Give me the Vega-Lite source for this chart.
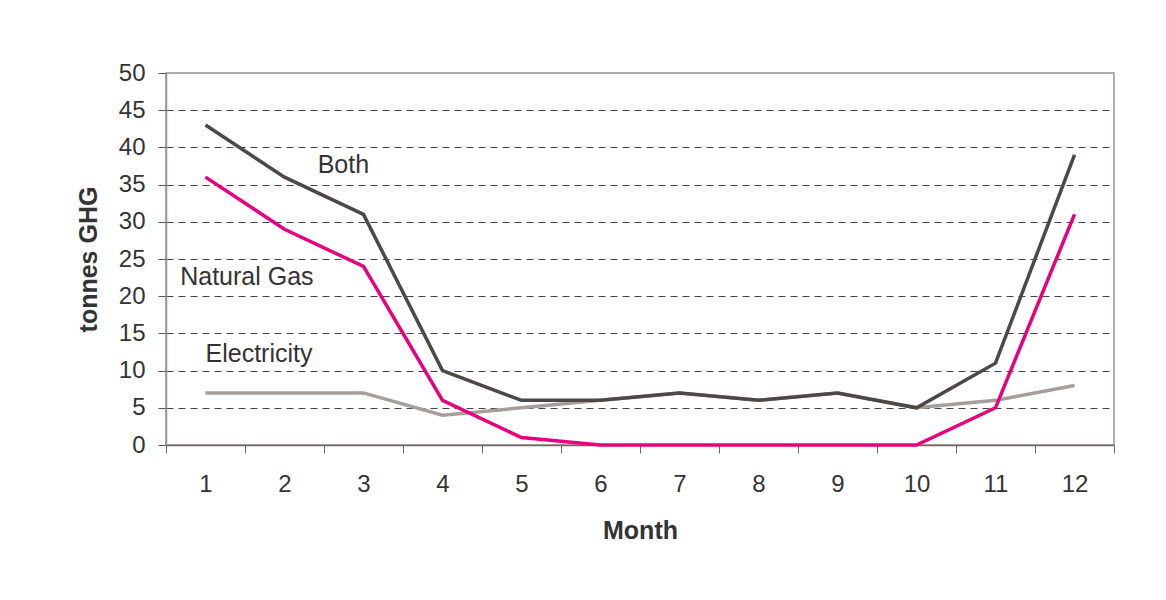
{
  "$schema": "https://vega.github.io/schema/vega-lite/v6.json",
  "autosize": {"type": "none"},
  "width": 948,
  "height": 372,
  "padding": {"left": 166, "top": 73, "right": 52, "bottom": 155},
  "background": "white",
  "config": {
    "font": "Liberation Sans",
    "view": {"stroke": "#9a918e", "strokeWidth": 1.5},
    "axis": {
      "labelFont": "Liberation Sans",
      "titleFont": "Liberation Sans",
      "labelColor": "#333333",
      "titleColor": "#333333"
    }
  },
  "datasets": {
    "emissions": [
      {"month": 1, "source": "Electricity", "tonnes": 7},
      {"month": 2, "source": "Electricity", "tonnes": 7},
      {"month": 3, "source": "Electricity", "tonnes": 7},
      {"month": 4, "source": "Electricity", "tonnes": 4},
      {"month": 5, "source": "Electricity", "tonnes": 5},
      {"month": 6, "source": "Electricity", "tonnes": 6},
      {"month": 7, "source": "Electricity", "tonnes": 7},
      {"month": 8, "source": "Electricity", "tonnes": 6},
      {"month": 9, "source": "Electricity", "tonnes": 7},
      {"month": 10, "source": "Electricity", "tonnes": 5},
      {"month": 11, "source": "Electricity", "tonnes": 6},
      {"month": 12, "source": "Electricity", "tonnes": 8},
      {"month": 1, "source": "Natural Gas", "tonnes": 36},
      {"month": 2, "source": "Natural Gas", "tonnes": 29},
      {"month": 3, "source": "Natural Gas", "tonnes": 24},
      {"month": 4, "source": "Natural Gas", "tonnes": 6},
      {"month": 5, "source": "Natural Gas", "tonnes": 1},
      {"month": 6, "source": "Natural Gas", "tonnes": 0},
      {"month": 7, "source": "Natural Gas", "tonnes": 0},
      {"month": 8, "source": "Natural Gas", "tonnes": 0},
      {"month": 9, "source": "Natural Gas", "tonnes": 0},
      {"month": 10, "source": "Natural Gas", "tonnes": 0},
      {"month": 11, "source": "Natural Gas", "tonnes": 5},
      {"month": 12, "source": "Natural Gas", "tonnes": 31},
      {"month": 1, "source": "Both", "tonnes": 43},
      {"month": 2, "source": "Both", "tonnes": 36},
      {"month": 3, "source": "Both", "tonnes": 31},
      {"month": 4, "source": "Both", "tonnes": 10},
      {"month": 5, "source": "Both", "tonnes": 6},
      {"month": 6, "source": "Both", "tonnes": 6},
      {"month": 7, "source": "Both", "tonnes": 7},
      {"month": 8, "source": "Both", "tonnes": 6},
      {"month": 9, "source": "Both", "tonnes": 7},
      {"month": 10, "source": "Both", "tonnes": 5},
      {"month": 11, "source": "Both", "tonnes": 11},
      {"month": 12, "source": "Both", "tonnes": 39}
    ],
    "seriesLabels": [
      {"month": 2.42, "tonnes": 36.6, "label": "Both"},
      {"month": 0.68, "tonnes": 21.5, "label": "Natural Gas"},
      {"month": 1.0, "tonnes": 11.2, "label": "Electricity"}
    ]
  },
  "resolve": {"axis": {"x": "independent", "y": "independent"}},
  "layer": [
    {
      "data": {"name": "emissions"},
      "mark": {"type": "line", "strokeWidth": 3.5, "clip": false},
      "encoding": {
        "x": {
          "field": "month",
          "type": "quantitative",
          "scale": {"domain": [0.5, 12.5], "nice": false, "zero": false},
          "axis": {
            "orient": "bottom",
            "values": [0.5, 1.5, 2.5, 3.5, 4.5, 5.5, 6.5, 7.5, 8.5, 9.5, 10.5, 11.5, 12.5],
            "labels": false,
            "grid": false,
            "domainColor": "#6f6865",
            "domainWidth": 1.5,
            "tickColor": "#6f6865",
            "tickSize": 8,
            "title": null
          }
        },
        "y": {
          "field": "tonnes",
          "type": "quantitative",
          "scale": {"domain": [0, 50], "nice": false},
          "axis": {
            "orient": "left",
            "values": [0, 5, 10, 15, 20, 25, 30, 35, 40, 45, 50],
            "title": "tonnes GHG",
            "titleFontSize": 25,
            "titleFontWeight": "bold",
            "titleX": -78,
            "titleBaseline": "middle",
            "labelFontSize": 24,
            "labelPadding": 13,
            "tickSize": 8,
            "tickColor": "#555555",
            "domainColor": "#9a918e",
            "domainWidth": 1.5,
            "grid": true,
            "gridColor": "#444444",
            "gridDash": [7, 5],
            "gridWidth": 1,
            "gridOpacity": {
              "condition": {"test": "datum.value == 0 || datum.value == 50", "value": 0},
              "value": 1
            }
          }
        },
        "color": {
          "field": "source",
          "type": "nominal",
          "scale": {
            "domain": ["Electricity", "Natural Gas", "Both"],
            "range": ["#a69e9b", "#e8007f", "#4d4846"]
          },
          "legend": null
        }
      }
    },
    {
      "data": {"name": "emissions"},
      "mark": {"type": "point", "opacity": 0},
      "encoding": {
        "x": {
          "field": "month",
          "type": "quantitative",
          "axis": {
            "orient": "bottom",
            "values": [1, 2, 3, 4, 5, 6, 7, 8, 9, 10, 11, 12],
            "ticks": false,
            "domain": false,
            "grid": false,
            "labelFontSize": 24,
            "labelBaseline": "alphabetic",
            "labelPadding": 46,
            "title": "Month",
            "titleFontSize": 25,
            "titleFontWeight": "bold",
            "titleBaseline": "alphabetic",
            "titleY": 93
          }
        },
        "y": {"field": "tonnes", "type": "quantitative", "axis": null}
      }
    },
    {
      "data": {"name": "seriesLabels"},
      "mark": {"type": "text", "align": "left", "baseline": "alphabetic", "fontSize": 25, "color": "#333333"},
      "encoding": {
        "x": {"field": "month", "type": "quantitative", "axis": null},
        "y": {"field": "tonnes", "type": "quantitative", "axis": null},
        "text": {"field": "label"}
      }
    }
  ]
}
